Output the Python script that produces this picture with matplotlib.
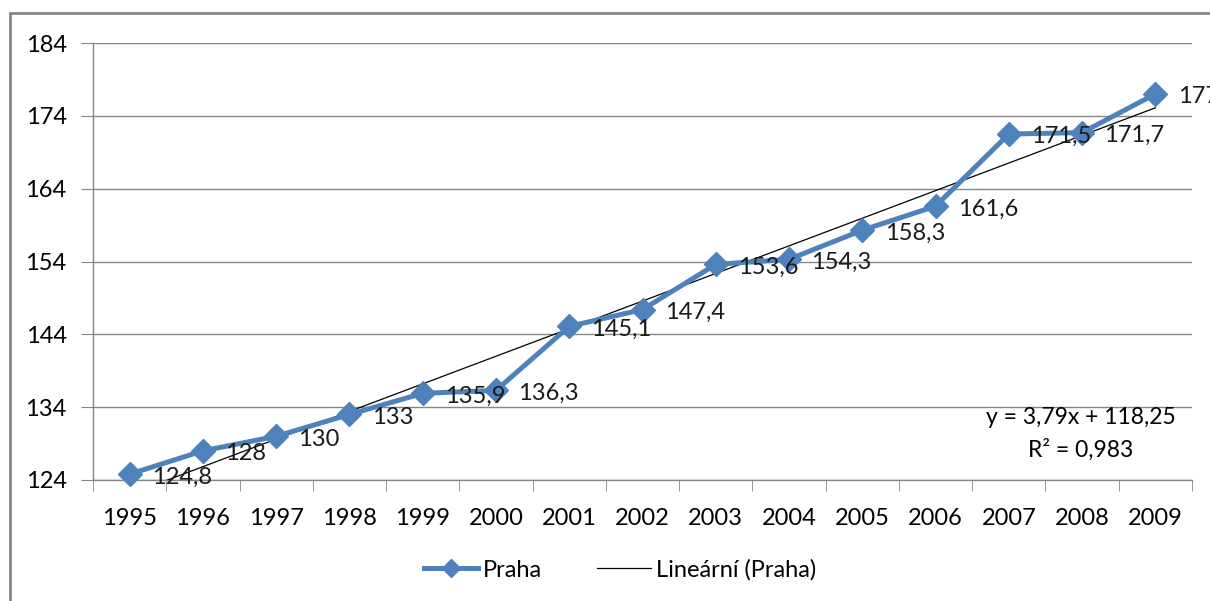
import matplotlib.pyplot as plt
from matplotlib.lines import Line2D
from matplotlib.patches import Rectangle
import numpy as np

plt.rcParams['font.family'] = ['Lato', 'DejaVu Sans']

# data
years = ['1995', '1996', '1997', '1998', '1999', '2000', '2001', '2002',
         '2003', '2004', '2005', '2006', '2007', '2008', '2009']
praha = [124.8, 128, 130, 133, 135.9, 136.3, 145.1, 147.4,
         153.6, 154.3, 158.3, 161.6, 171.5, 171.7, 177]
trend_slope = 3.79
trend_icpt = 118.25
r2_text = '0,983'

blue = '#4F81BD'
grey = '#868686'
fs = 17

fig = plt.figure(figsize=(12.1, 6.01), dpi=100)
ax = fig.add_axes([93/1210, 1 - 480/601, (1192 - 93)/1210, (480 - 43)/601])

x = np.arange(len(years))

# trendline (Excel x = 1..n)
xt = np.linspace(0, len(years) - 1, 200)
yt = trend_slope * (xt + 1) + trend_icpt
ax.plot(xt, yt, color='black', lw=0.9, zorder=3)

ax.plot(x, praha, color=blue, lw=3.6, marker='D', markersize=12,
        markeredgecolor=blue, zorder=4, clip_on=False)

for xi, v in zip(x, praha):
    lab = f'{v:g}'.replace('.', ',')
    ax.annotate(lab, (xi, v), xytext=(16, -2), textcoords='offset points',
                ha='left', va='center', fontsize=fs, color='#1a1a1a',
                zorder=5, annotation_clip=False)

ax.set_xlim(-0.5, len(years) - 0.5)
ax.set_ylim(124, 184)
ax.set_yticks(np.arange(124, 185, 10))
ax.set_xticks(x)
ax.set_xticklabels(years)
ax.set_xticks(np.arange(-0.5, len(years), 1), minor=True)
ax.tick_params(axis='x', which='major', length=0, pad=20, labelsize=fs)
ax.tick_params(axis='x', which='minor', length=8, color=grey, direction='out')
ax.tick_params(axis='y', length=9, color=grey, pad=10, labelsize=fs)

ax.grid(axis='y', color=grey, lw=1)
ax.set_axisbelow(True)
for s in ['top', 'right']:
    ax.spines[s].set_visible(False)
for s in ['left', 'bottom']:
    ax.spines[s].set_color(grey)
    ax.spines[s].set_linewidth(1)

ax.text(0.899, 0.142, f'y = {trend_slope:.2f}x + {trend_icpt:.2f}'.replace('.', ','),
        transform=ax.transAxes, ha='center', va='center', fontsize=fs - 0.5)
ax.text(0.899, 0.069, 'R² = ' + r2_text, transform=ax.transAxes,
        ha='center', va='center', fontsize=fs - 0.5)

handles = [Line2D([], [], color=blue, lw=3.6, marker='D', markersize=9),
           Line2D([], [], color='black', lw=0.9)]
fig.legend(handles, ['Praha', 'Lineární (Praha)'], loc='center',
           bbox_to_anchor=(620/1210, 1 - 570/601), ncol=2, frameon=False,
           fontsize=fs, handlelength=2.3, columnspacing=2.3, handletextpad=0.2)

# chart border
fig.patches.append(Rectangle((10/1210, -0.05), 1.1, 1 - 13/601 + 0.05,
                             transform=fig.transFigure, fill=False,
                             edgecolor=grey, lw=2))

fig.savefig('out.png', dpi=100)
